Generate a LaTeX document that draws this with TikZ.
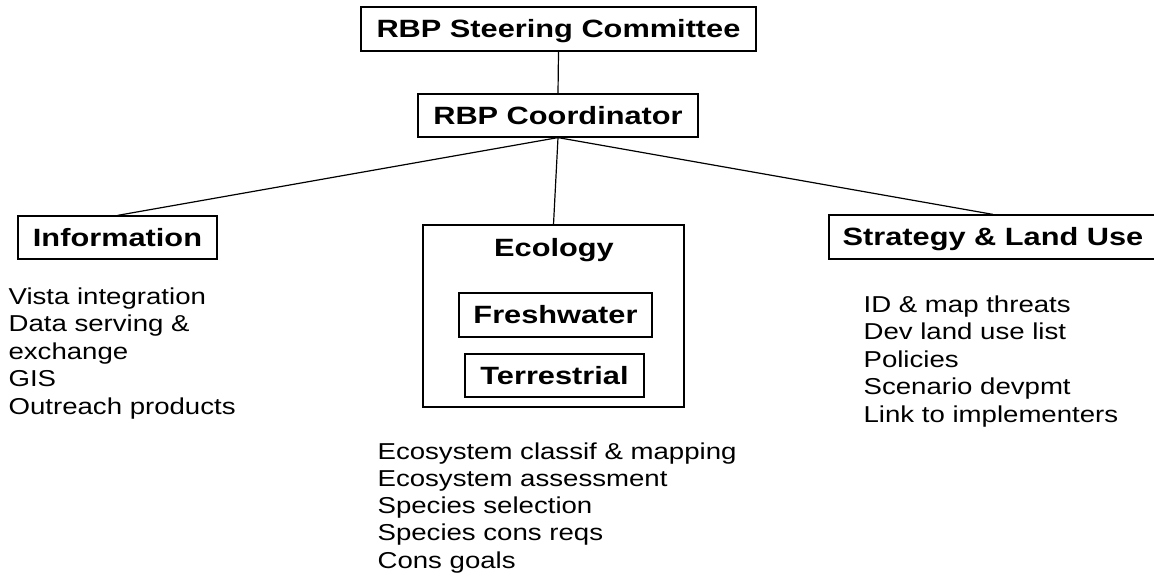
\documentclass[tikz,border=0pt]{standalone}
\usepackage{fontspec}
\setmainfont{Liberation Sans}[FakeStretch=1.2]
\newfontfamily\bfam{Liberation Sans}[FakeStretch=1.23]
\begin{document}
\begin{tikzpicture}[x=1pt,y=-1pt,line width=1.2pt,
  box/.style={draw,inner sep=0pt,text height=17.9pt,text depth=0pt,
    font=\bfam\bfseries\fontsize{25}{30}\selectfont},
  btext/.style={inner sep=0pt,text height=17.9pt,text depth=0pt,
    font=\bfam\bfseries\fontsize{25}{30}\selectfont},
  lst/.style={anchor=base west,inner sep=0pt,font=\fontsize{23}{27.4}\selectfont},
  conn/.style={line width=1.2pt}]
\clip (0,0) rectangle (1154,576);
\useasboundingbox (0,0) rectangle (1154,576);
\node[box,minimum width=395pt,minimum height=44pt] (steer) at (558.5,29) {RBP Steering Committee};
\node[box,minimum width=280pt,minimum height=43pt] (coord) at (558,115.5) {RBP Coordinator};
\node[box,minimum width=199pt,minimum height=43pt] (info) at (117.5,237.5) {Information};
\node[draw,inner sep=0pt,minimum width=261pt,minimum height=182pt] (eco) at (553.5,316) {};
\node[btext] (ecolabel) at (554,248) {Ecology};
\node[box,minimum width=193pt,minimum height=44pt] (fresh) at (555.5,315) {Freshwater};
\node[box,minimum width=179pt,minimum height=43pt] (terr) at (554.5,375.5) {Terrestrial};
\node[box,minimum width=328pt,minimum height=44pt] (strat) at (993,237) {Strategy \& Land Use};
\draw[conn] (steer.south) -- (coord.north);
\draw[conn] (coord.south) -- (info.north);
\draw[conn] (coord.south) -- (eco.north);
\draw[conn] (coord.south) -- (strat.north);
\foreach \t [count=\i] in {Vista integration, Data serving \&, exchange, GIS, Outreach products}
  \node[lst] (info\i) at (8,{304+27.5*(\i-1)}) {\t};
\foreach \t [count=\i] in {ID \& map threats, Dev land use list, Policies, Scenario devpmt, Link to implementers}
  \node[lst] (strat\i) at (863,{312+27.5*(\i-1)}) {\t};
\foreach \t [count=\i] in {Ecosystem classif \& mapping, Ecosystem assessment, Species selection, Species cons reqs, Cons goals}
  \node[lst] (eco\i) at (377,{459+27.25*(\i-1)}) {\t};
\end{tikzpicture}
\end{document}
